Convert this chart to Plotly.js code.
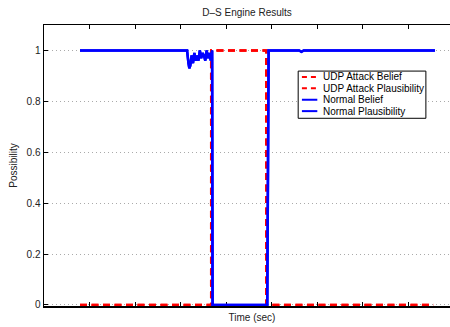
<!DOCTYPE html>
<html>
<head>
<meta charset="utf-8">
<script src="https://cdn.plot.ly/plotly-3.0.1.min.js"></script>
<style>
html,body{margin:0;padding:0;width:450px;height:327px;overflow:hidden;background:#fff;}
#chart{width:460px;height:327px;}
</style>
</head>
<body>
<div id="chart"></div>
<script>
// ---- data ----
var seriesNames = ["UDP Attack Belief", "UDP Attack Plausibility", "Normal Belief", "Normal Plausibility"];
var udpBeliefX = [0.79, 3.67, 3.67, 4.88, 4.88, 8.55];
var udpBeliefY = [0, 0, 1, 1, 0, 0];
var udpPlausX = [0.79, 3.67, 3.67, 4.88, 4.88, 8.55];
var udpPlausY = [0, 0, 1, 1, 0, 0];
var normalBeliefX = [0.79, 3.14, 3.17, 3.19, 3.21, 3.24, 3.27, 3.30, 3.33, 3.36, 3.39, 3.42, 3.45, 3.48, 3.51, 3.54, 3.57, 3.60, 3.63, 3.66, 3.69, 3.70, 4.90, 4.93, 5.6, 5.65, 5.7, 5.8, 8.58];
var normalBeliefY = [1, 1, 0.95, 0.93, 0.94, 0.98, 0.95, 0.99, 0.96, 0.98, 0.96, 1.0, 0.97, 0.99, 0.98, 0.96, 1.0, 0.97, 0.99, 0.96, 1.0, 0, 0, 1, 1, 0.995, 1, 1, 1];
var normalPlausX = normalBeliefX.slice();
var normalPlausY = normalBeliefY.slice();
var yTickVals = [0, 0.2, 0.4, 0.6, 0.8, 1];
var yTickText = ["0", "0.2", "0.4", "0.6", "0.8", "1"];
var xTickVals = [1, 2, 3, 4, 5, 6, 7, 8, 9];
var seriesColors = ["#ff0000", "#ff0000", "#0000ff", "#0000ff"];
var seriesDash = ["7px,4.5px", "7px,4.5px", "solid", "solid"];

// ---- chart ----
var xs = [udpBeliefX, udpPlausX, normalBeliefX, normalPlausX];
var ys = [udpBeliefY, udpPlausY, normalBeliefY, normalPlausY];
var traces = [];
for (var i = 0; i < 4; i++) {
  traces.push({
    x: xs[i], y: ys[i], type: "scatter", mode: "lines", name: seriesNames[i],
    line: {color: seriesColors[i], width: 2.5, dash: seriesDash[i]},
    showlegend: false, hoverinfo: "skip"
  });
}

// manual compact legend (MATLAB style)
var L = {x0: 0.611, x1: 0.918, y1: 0.836, y0: 0.668};
var shapes = [{type: "rect", xref: "paper", yref: "paper", x0: L.x0, x1: L.x1, y0: L.y0, y1: L.y1,
  line: {color: "#000", width: 1}, fillcolor: "#fff", layer: "above"}];
var annotations = [];
var rowTop = 0.815, rowStep = 0.0405;
for (var j = 0; j < 4; j++) {
  var yy = rowTop - j * rowStep;
  shapes.push({type: "line", xref: "paper", yref: "paper", x0: 0.620, x1: 0.657, y0: yy, y1: yy,
    line: {color: seriesColors[j], width: 2, dash: j < 2 ? "5px,4px" : "solid"}, layer: "above"});
  annotations.push({xref: "paper", yref: "paper", x: 0.666, y: yy, xanchor: "left", yanchor: "middle",
    text: seriesNames[j], showarrow: false, font: {family: "Liberation Sans, Arial, sans-serif", size: 10, color: "#000"}});
}

var layout = {
  width: 460, height: 327,
  margin: {l: 44, r: 0, t: 25, b: 21, pad: 0},
  paper_bgcolor: "#fff", plot_bgcolor: "#fff",
  font: {family: "Liberation Sans, Arial, sans-serif", size: 10, color: "#222"},
  title: {text: "D\u2013S Engine Results", font: {size: 10, color: "#222"}, x: 0.537, xref: "container", xanchor: "center", y: 0.963, yref: "container", yanchor: "middle"},
  xaxis: {
    range: [0, 9.13], tickvals: xTickVals, showticklabels: false,
    ticks: "inside", ticklen: 4, tickcolor: "#000", tickwidth: 1,
    showline: true, linecolor: "#000", linewidth: 1.5, mirror: "ticks",
    showgrid: false, zeroline: false, automargin: false, layer: "below traces",
    title: {text: "Time (sec)", font: {size: 10, color: "#222"}, standoff: 7}
  },
  yaxis: {
    range: [-0.004, 1.1], tickvals: yTickVals, ticktext: yTickText,
    ticks: "inside", ticklen: 4, tickcolor: "#000", tickwidth: 1,
    showline: true, linecolor: "#000", linewidth: 1.5, mirror: "ticks",
    showgrid: true, gridcolor: "#aaa", gridwidth: 1, griddash: "1px,3px",
    zeroline: false, automargin: false, layer: "below traces",
    tickfont: {size: 10, color: "#222"},
    title: {text: "Possibility", font: {size: 10, color: "#222"}, standoff: 7}
  },
  shapes: shapes,
  annotations: annotations
};

Plotly.newPlot("chart", traces, layout, {displayModeBar: false, staticPlot: true});
</script>
</body>
</html>
